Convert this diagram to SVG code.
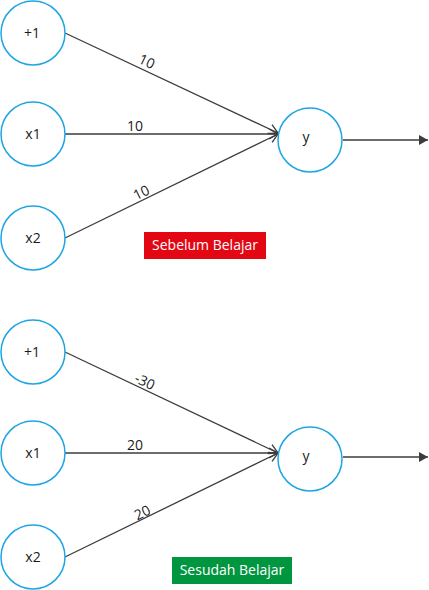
<svg xmlns="http://www.w3.org/2000/svg" width="429" height="590" viewBox="0 0 429 590">
<style>
.node{fill:#fff;stroke:#1ea5e3;stroke-width:1.5}
.lbl{font-family:"Open Sans","Liberation Sans",sans-serif;font-size:14px;fill:#1a1a1a;text-anchor:middle}
.w{font-family:"Open Sans","Liberation Sans",sans-serif;font-size:14px;fill:#1a1a1a;text-anchor:middle;dominant-baseline:central}
.edge{stroke:#3c3c3c;stroke-width:1.3;fill:none}
.tag{font-family:"Open Sans","Liberation Sans",sans-serif;font-size:14px;fill:#fff;text-anchor:middle}
</style>
<defs>
<marker id="open" markerWidth="12" markerHeight="12" refX="10" refY="6" orient="auto" markerUnits="userSpaceOnUse">
<path d="M1,1 L10,6 L1,11" fill="none" stroke="#3c3c3c" stroke-width="1.3"/>
</marker>
<marker id="solid" markerWidth="12" markerHeight="12" refX="10" refY="6" orient="auto" markerUnits="userSpaceOnUse">
<path d="M1,1 L10,6 L1,11 Z" fill="#3c3c3c"/>
</marker>
</defs>
<g id="connectors">
<line class="edge" x1="65" y1="33" x2="278" y2="133" marker-end="url(#open)"/>
<line class="edge" x1="65" y1="134" x2="278" y2="134" marker-end="url(#open)"/>
<line class="edge" x1="65" y1="238" x2="278" y2="134" marker-end="url(#open)"/>
<line class="edge" x1="343" y1="140" x2="428" y2="140" marker-end="url(#solid)"/>
<text class="w" transform="translate(147,61) rotate(25)">10</text>
<text class="w" x="135" y="125">10</text>
<text class="w" transform="translate(141,192) rotate(-26)">10</text>
<line class="edge" x1="65" y1="352" x2="278" y2="453" marker-end="url(#open)"/>
<line class="edge" x1="65" y1="453" x2="278" y2="453" marker-end="url(#open)"/>
<line class="edge" x1="65" y1="557" x2="278" y2="453" marker-end="url(#open)"/>
<line class="edge" x1="343" y1="457" x2="428" y2="457" marker-end="url(#solid)"/>
<text class="w" transform="translate(145,381) rotate(25)">-30</text>
<text class="w" x="135" y="444">20</text>
<text class="w" transform="translate(142,512) rotate(-26)">20</text>
</g>
<g id="n_bias1"><circle class="node" cx="33" cy="33" r="32"/><text class="lbl" x="32" y="38">+1</text></g>
<g id="n_x1a"><circle class="node" cx="33" cy="134" r="32"/><text class="lbl" x="33" y="139">x1</text></g>
<g id="n_x2a"><circle class="node" cx="33" cy="238" r="32"/><text class="lbl" x="33" y="243">x2</text></g>
<g id="n_ya"><circle class="node" cx="310" cy="140" r="32"/><text class="lbl" x="306" y="142">y</text></g>
<g id="tag_before"><rect x="144" y="232" width="122" height="27" fill="#e30613"/><text class="tag" x="205" y="250">Sebelum Belajar</text></g>
<g id="n_bias2"><circle class="node" cx="33" cy="352" r="32"/><text class="lbl" x="32" y="357">+1</text></g>
<g id="n_x1b"><circle class="node" cx="33" cy="453" r="32"/><text class="lbl" x="33" y="458">x1</text></g>
<g id="n_x2b"><circle class="node" cx="33" cy="557" r="32"/><text class="lbl" x="33" y="562">x2</text></g>
<g id="n_yb"><circle class="node" cx="310" cy="459" r="32"/><text class="lbl" x="306" y="461">y</text></g>
<g id="tag_after"><rect x="172" y="557" width="120" height="27" fill="#009640"/><text class="tag" x="232" y="575">Sesudah Belajar</text></g>
</svg>
